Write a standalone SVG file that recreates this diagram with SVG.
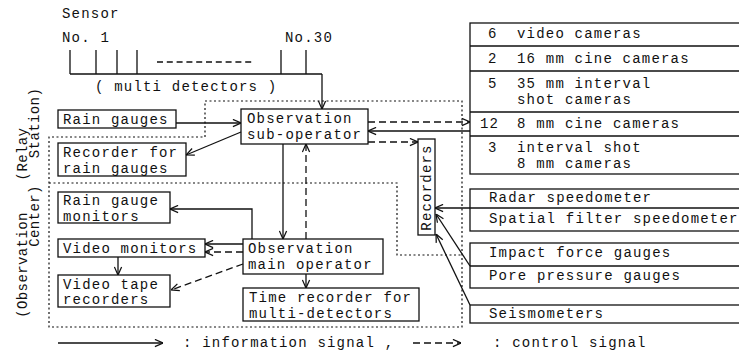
<svg xmlns="http://www.w3.org/2000/svg" width="739" height="353" viewBox="0 0 739 353">
<style>
text{font-family:"Liberation Mono","DejaVu Sans Mono",monospace;font-size:14px;letter-spacing:1.2px;fill:#111}
.lab{font-size:14px;letter-spacing:0.4px}
.box{fill:#fff;stroke:#111;stroke-width:1.3}
.ln{fill:none;stroke:#111;stroke-width:1.3}
.dash{fill:none;stroke:#111;stroke-width:1.3;stroke-dasharray:7 4}
.dot{fill:none;stroke:#111;stroke-width:1.2;stroke-dasharray:2 2.5}
</style>
<defs>
<marker id="a" viewBox="0 0 10 10" refX="10" refY="5" markerWidth="9" markerHeight="9" markerUnits="userSpaceOnUse" orient="auto">
<path d="M1,1 L10,5 L1,9" fill="none" stroke="#111" stroke-width="1.4"/>
</marker>
</defs>
<rect width="739" height="353" fill="#fff"/>

<g id="regions">
<path class="dot" d="M205,101 H462 V327 H49 V137 H205 Z"/>
<path class="dot" d="M49,183 H397 V255 H462"/>
<text class="lab" transform="translate(27,154) rotate(-90)" text-anchor="middle">(Relay</text>
<text class="lab" transform="translate(39,123) rotate(-90)" text-anchor="middle">Station)</text>
<text class="lab" transform="translate(27,265) rotate(-90)" text-anchor="middle">(Observation</text>
<text class="lab" transform="translate(39,216) rotate(-90)" text-anchor="middle">Center)</text>
</g>

<g id="sensor">
<text x="62" y="18">Sensor</text>
<text x="62" y="42">No. 1</text>
<text x="285" y="42">No.30</text>
<path class="ln" d="M70,50 V74 M96,50 V74 M117,50 V74 M137,50 V74 M281,50 V74 M306,50 V74 M70,74 H322"/>
<line x1="157" y1="62" x2="255" y2="62" stroke="#111" stroke-width="1.3" stroke-dasharray="6 3.8"/>
<text x="95" y="91">( multi detectors )</text>
</g>

<g id="rain-gauges"><rect class="box" x="58" y="110" width="118" height="18"/><text x="63" y="124">Rain gauges</text></g>
<g id="recorder-rain"><rect class="box" x="58" y="143" width="128" height="33"/><text x="63" y="156.5">Recorder for</text><text x="63" y="172.5">rain gauges</text></g>
<g id="rain-monitors"><rect class="box" x="58" y="192" width="112" height="31"/><text x="63" y="204.5">Rain gauge</text><text x="63" y="220.5">monitors</text></g>
<g id="video-monitors"><rect class="box" x="58" y="239" width="147" height="18"/><text x="63" y="253">Video monitors</text></g>
<g id="video-tape"><rect class="box" x="58" y="275" width="112" height="32"/><text x="63" y="288.5">Video tape</text><text x="63" y="304">recorders</text></g>
<g id="sub-operator"><rect class="box" x="241" y="109" width="127" height="35"/><text x="247" y="122.5">Observation</text><text x="247" y="138.5">sub-operator</text></g>
<g id="main-operator"><rect class="box" x="243" y="239" width="140" height="35"/><text x="248" y="252.5">Observation</text><text x="248" y="268.5">main operator</text></g>
<g id="time-recorder"><rect class="box" x="243" y="288" width="176" height="33"/><text x="249" y="301.5">Time recorder for</text><text x="249" y="317.5">multi-detectors</text></g>
<g id="recorders"><rect class="box" x="418" y="139" width="17" height="96"/><text transform="translate(431,187.5) rotate(-90)" text-anchor="middle">Recorders</text></g>

<g id="cameras">
<rect class="box" x="470" y="23" width="280" height="151"/>
<path class="ln" d="M470,46 H739 M470,71 H739 M470,112 H739 M470,136 H739"/>
<text x="488" y="38">6</text><text x="517" y="38">video cameras</text>
<text x="488" y="63">2</text><text x="517" y="63">16 mm cine cameras</text>
<text x="488" y="87.5">5</text><text x="517" y="87.5">35 mm interval</text><text x="517" y="103.5">shot cameras</text>
<text x="480" y="128">12</text><text x="517" y="128">8 mm cine cameras</text>
<text x="488" y="151.5">3</text><text x="517" y="151.5">interval shot</text><text x="517" y="167.5">8 mm cameras</text>
</g>
<g id="speedometers">
<rect class="box" x="470" y="189" width="280" height="42"/>
<path class="ln" d="M470,208 H739"/>
<text x="489" y="202">Radar speedometer</text>
<text x="489" y="223">Spatial filter speedometer</text>
</g>
<g id="gauges">
<rect class="box" x="470" y="243" width="280" height="45"/>
<path class="ln" d="M470,266 H739"/>
<text x="489" y="257">Impact force gauges</text>
<text x="489" y="280">Pore pressure gauges</text>
</g>
<g id="seismometers">
<rect class="box" x="470" y="305" width="280" height="18"/>
<text x="489" y="318">Seismometers</text>
</g>

<g id="connectors">
<path class="ln" d="M322,74 V109" marker-end="url(#a)"/>
<path class="ln" d="M176,123 H241" marker-end="url(#a)"/>
<path class="ln" d="M241,132 L186,155" marker-end="url(#a)"/>
<path class="ln" d="M283,144 V239" marker-end="url(#a)"/>
<path class="dash" d="M306,239 V144" marker-end="url(#a)"/>
<path class="ln" d="M252,239 V209 H170" marker-end="url(#a)"/>
<path class="ln" d="M243,244 H205" marker-end="url(#a)"/>
<path class="dash" d="M243,252 H205" marker-end="url(#a)"/>
<path class="ln" d="M118,257 V275" marker-end="url(#a)"/>
<path class="dash" d="M243,264 L171,290" marker-end="url(#a)"/>
<path class="ln" d="M306,274 V288" marker-end="url(#a)"/>
<path class="dash" d="M368,122 H470" marker-end="url(#a)"/>
<path class="ln" d="M470,131 H368" marker-end="url(#a)"/>
<path class="dash" d="M368,142 H418" marker-end="url(#a)"/>
<path class="ln" d="M470,208 H435" marker-end="url(#a)"/>
<path class="ln" d="M470,266 L436,214" marker-end="url(#a)"/>
<path class="ln" d="M470,305 L436,234" marker-end="url(#a)"/>
</g>

<g id="legend">
<path class="ln" d="M58,343 H163" marker-end="url(#a)"/>
<text x="183" y="347">: information signal ,</text>
<path class="dash" d="M413,343 H461" marker-end="url(#a)"/>
<text x="493" y="347">: control signal</text>
</g>
</svg>
